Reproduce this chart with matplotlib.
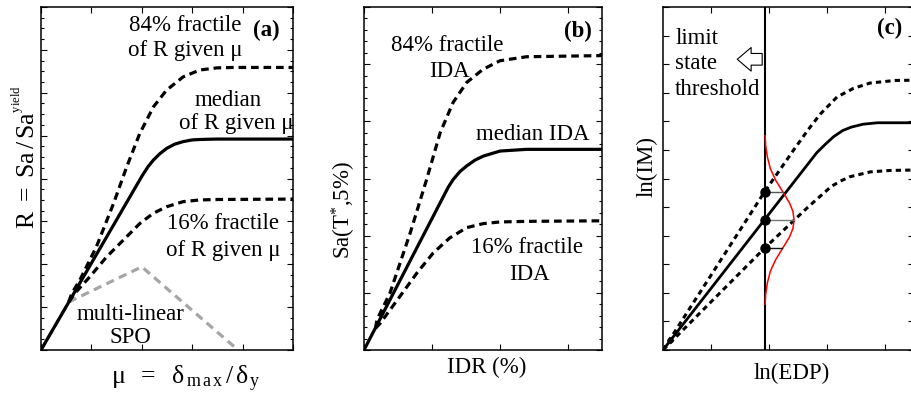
import matplotlib
matplotlib.use("Agg")
import matplotlib.pyplot as plt
from matplotlib.ticker import AutoMinorLocator, MultipleLocator

plt.rcParams['font.family'] = ['Liberation Serif', 'DejaVu Serif']
plt.rcParams['mathtext.fontset'] = 'stix'
plt.rcParams['lines.scale_dashes'] = False

# ---------------- data ----------------
# Panel (a): R vs ductility
a_med_x = [0.0, 2.0, 2.12, 2.23, 2.36, 2.49, 2.65, 2.82, 3.0, 3.15, 3.49, 5.0]
a_med_y = [0.0, 4.05, 4.27, 4.43, 4.58, 4.70, 4.80, 4.86, 4.90, 4.91, 4.92, 4.92]
a_p84_x = [0.55, 0.61, 0.77, 1.10, 1.44, 1.70, 1.96, 2.23, 2.49, 2.82, 3.15, 3.49, 3.82, 5.0]
a_p84_y = [1.12, 1.32, 1.63, 2.41, 3.42, 4.27, 5.05, 5.67, 6.06, 6.37, 6.53, 6.58, 6.59, 6.59]
a_p16_x = [0.55, 0.67, 0.97, 1.30, 1.63, 1.96, 2.23, 2.49, 2.82, 3.15, 3.49, 5.0]
a_p16_y = [1.12, 1.32, 1.71, 2.17, 2.56, 2.95, 3.19, 3.34, 3.46, 3.50, 3.51, 3.52]
a_spo_x = [0.0, 0.55, 2.0, 3.91]
a_spo_y = [0.0, 1.12, 1.94, 0.0]

# Panel (b): IDA curves
b_med_x = [0.0, 1.17, 1.24, 1.31, 1.41, 1.51, 1.63, 1.75, 2.0, 2.39, 3.5]
b_med_y = [0.0, 2.69, 2.85, 2.98, 3.12, 3.22, 3.32, 3.39, 3.48, 3.51, 3.51]
b_p84_x = [0.17, 0.19, 0.38, 0.68, 0.92, 1.12, 1.31, 1.51, 1.75, 2.0, 2.39, 3.5]
b_p84_y = [0.38, 0.53, 0.99, 2.05, 2.98, 3.80, 4.33, 4.68, 4.91, 5.06, 5.13, 5.15]
b_p16_x = [0.17, 0.24, 0.53, 0.78, 1.02, 1.26, 1.51, 1.75, 2.0, 2.39, 3.5]
b_p16_y = [0.38, 0.47, 0.94, 1.35, 1.70, 1.96, 2.14, 2.21, 2.24, 2.25, 2.26]

# Panel (c): ln(IM) vs ln(EDP)
c_med_x = [0.0, 2.65, 2.80, 2.94, 3.10, 3.25, 3.45, 3.70, 4.40]
c_med_y = [0.0, 6.90, 7.20, 7.46, 7.68, 7.80, 7.90, 7.95, 7.95]
c_p84_x = [0.0, 1.75, 2.25, 2.50, 2.71, 3.00, 3.28, 3.57, 4.00, 4.40]
c_p84_y = [0.0, 5.53, 6.99, 7.70, 8.25, 8.85, 9.15, 9.34, 9.43, 9.44]
c_p16_x = [0.0, 1.75, 2.50, 2.75, 2.90, 3.05, 3.22, 3.57, 3.90, 4.40]
c_p16_y = [0.0, 3.56, 5.00, 5.45, 5.72, 5.90, 6.06, 6.23, 6.28, 6.30]
c_threshold = 1.75
c_dots_y = [5.52, 4.55, 3.57]
c_dot_reach = [0.31, 0.50, 0.31]
# red distribution: offsets (in ln IM) and widths (in ln EDP)
c_pdf_dy = [-2.95, -2.6, -2.2, -1.8, -1.4, -1.0, -0.6, -0.3, 0.0,
            0.3, 0.6, 1.0, 1.4, 1.8, 2.2, 2.6, 2.95]
c_pdf_w = [0.01, 0.02, 0.05, 0.10, 0.19, 0.31, 0.43, 0.49, 0.51,
           0.49, 0.43, 0.31, 0.19, 0.10, 0.05, 0.02, 0.01]

FS = 16.5
W, H = 911, 393
fig = plt.figure(figsize=(W / 100, H / 100), dpi=100)

def px_axes(l, r, t=7, b=350):
    return fig.add_axes([l / W, (H - b) / H, (r - l) / W, (b - t) / H])

axa = px_axes(41, 293)
axb = px_axes(364, 602)
axc = px_axes(663, 914)

for ax in (axa, axb, axc):
    ax.tick_params(which='both', direction='in', top=True, right=True,
                   labelbottom=False, labelleft=False, width=0.8)
    ax.tick_params(which='major', length=4)
    ax.tick_params(which='minor', length=2)
    for s in ax.spines.values():
        s.set_linewidth(1.1)

DASH = (5.5, 3.5)
LW = 2.3

# ---- panel a ----
axa.set_xlim(0, 5); axa.set_ylim(0, 8)
axa.xaxis.set_major_locator(MultipleLocator(1))
axa.yaxis.set_major_locator(MultipleLocator(1))
axa.yaxis.set_minor_locator(AutoMinorLocator(4))
axa.plot(a_spo_x, a_spo_y, color='#a6a6a6', lw=LW, dashes=(6.0, 4.0), zorder=1)
axa.plot(a_med_x, a_med_y, color='k', lw=LW, solid_capstyle='butt', zorder=3)
axa.plot(a_p84_x, a_p84_y, color='k', lw=LW, dashes=DASH, zorder=3)
axa.plot(a_p16_x, a_p16_y, color='k', lw=LW, dashes=DASH, zorder=3)
axa.text(2.86, 7.58, '84% fractile', fontsize=FS, ha='center', va='center')
axa.text(2.86, 6.99, 'of R given μ', fontsize=FS, ha='center', va='center')
axa.text(4.48, 7.46, '(a)', fontsize=FS, fontweight='bold', ha='center', va='center')
axa.text(3.71, 5.83, 'median', fontsize=FS, ha='center', va='center')
axa.text(3.87, 5.29, 'of R given μ', fontsize=FS, ha='center', va='center')
axa.text(3.61, 2.96, '16% fractile', fontsize=FS, ha='center', va='center')
axa.text(3.61, 2.33, 'of R given μ', fontsize=FS, ha='center', va='center')
axa.text(1.77, 0.82, 'multi-linear', fontsize=FS, ha='center', va='center')
axa.text(1.77, 0.28, 'SPO', fontsize=FS, ha='center', va='center')
axa.text(0.575, -0.085,
         r'$\mathregular{μ\ \ =\ \ δ_{\,m\,a\,x}\,/\,δ_{\,y}}$',
         transform=axa.transAxes, fontsize=FS + 2, ha='center', va='center')
axa.text(-0.063, 0.563,
         r'$\mathregular{R\ =\ Sa\,/\,Sa^{^{yield}}}$',
         transform=axa.transAxes, fontsize=FS + 2, ha='center', va='center', rotation=90)

# ---- panel b ----
axb.set_xlim(0, 3.5); axb.set_ylim(0, 6)
axb.xaxis.set_major_locator(MultipleLocator(1))
axb.yaxis.set_major_locator(MultipleLocator(1))
axb.yaxis.set_minor_locator(AutoMinorLocator(5))
axb.plot(b_med_x, b_med_y, color='k', lw=LW, zorder=3)
axb.plot(b_p84_x, b_p84_y, color='k', lw=LW, dashes=DASH, zorder=3)
axb.plot(b_p16_x, b_p16_y, color='k', lw=LW, dashes=DASH, zorder=3)
axb.text(3.15, 5.58, '(b)', fontsize=FS, fontweight='bold', ha='center', va='center')
axb.text(1.22, 5.32, '84% fractile', fontsize=FS, ha='center', va='center')
axb.text(1.25, 4.88, 'IDA', fontsize=FS, ha='center', va='center')
axb.text(2.48, 3.77, 'median IDA', fontsize=FS, ha='center', va='center')
axb.text(2.39, 1.79, '16% fractile', fontsize=FS, ha='center', va='center')
axb.text(2.44, 1.32, 'IDA', fontsize=FS, ha='center', va='center')
axb.text(0.516, -0.052, 'IDR (%)', transform=axb.transAxes, fontsize=FS,
         ha='center', va='center')
axb.text(-0.084, 0.408, r'$\mathregular{Sa(T^{*}{,}5\%)}$', transform=axb.transAxes,
         fontsize=FS, ha='center', va='center', rotation=90)

# ---- panel c ----
DASHC = (3.8, 3.0)
axc.set_xlim(0, 251 / 58); axc.set_ylim(0, 12)
axc.set_xticks([0.83, 1.83, 2.83, 3.83])
axc.yaxis.set_major_locator(MultipleLocator(1))
axc.plot(c_med_x, c_med_y, color='k', lw=2.0, zorder=3)
axc.plot(c_p84_x, c_p84_y, color='k', lw=2.2, dashes=DASHC, zorder=3)
axc.plot(c_p16_x, c_p16_y, color='k', lw=2.2, dashes=DASHC, zorder=3)
axc.axvline(c_threshold, color='k', lw=1.5, zorder=4)
axc.plot([c_threshold + w for w in c_pdf_w],
         [c_dots_y[1] + d for d in c_pdf_dy], color='red', lw=1.1, zorder=4)
for yv, reach, col in zip(c_dots_y, c_dot_reach, ['#555555', '#777777', '#111111']):
    axc.plot([c_threshold, c_threshold + reach], [yv, yv], color=col, lw=1.0, zorder=4)
axc.plot([c_threshold] * 3, c_dots_y, 'o', color='k', ms=6.5, zorder=5)
axc.plot([0.12], [0.35], 'o', color='k', ms=3.5, zorder=5)
axc.text(3.91, 11.26, '(c)', fontsize=FS, fontweight='bold', ha='center', va='center')
axc.text(0.21, 10.9, 'limit', fontsize=FS, ha='left', va='center')
axc.text(0.21, 10.02, 'state', fontsize=FS, ha='left', va='center')
axc.text(0.21, 9.13, 'threshold', fontsize=FS, ha='left', va='center')
axc.annotate('', xy=(1.28, 10.17), xytext=(1.71, 10.17),
             arrowprops=dict(arrowstyle='simple,head_length=0.5,head_width=0.85,tail_width=0.42',
                             fc='white', ec='k', lw=0.8, mutation_scale=20,
                             shrinkA=0, shrinkB=0))
axc.text(0.514, -0.067, 'ln(EDP)', transform=axc.transAxes, fontsize=FS,
         ha='center', va='center')
axc.text(-0.064, 0.536, 'ln(IM)', transform=axc.transAxes, fontsize=FS,
         ha='center', va='center', rotation=90)

fig.savefig('out.png', dpi=100)
